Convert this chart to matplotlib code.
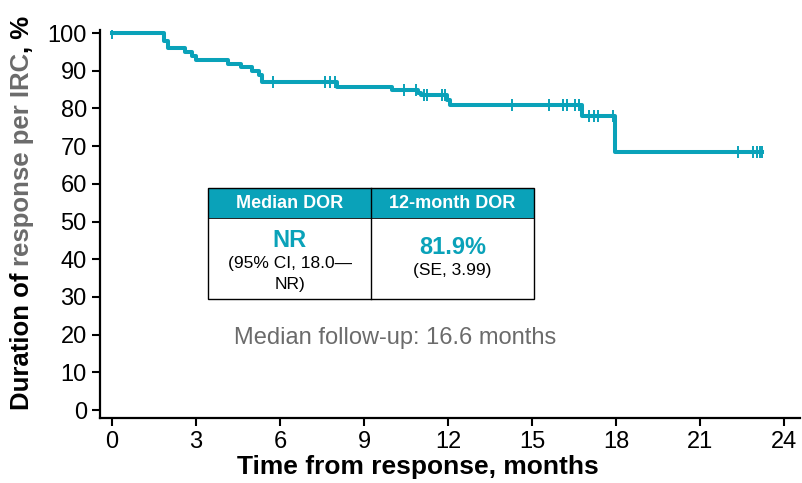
import numpy as np
import matplotlib
matplotlib.use("Agg")
import matplotlib.pyplot as plt
from matplotlib.patches import Rectangle

plt.rcParams['font.family'] = ['Liberation Sans', 'DejaVu Sans']

# Kaplan-Meier step curve (time in months, % still in response)
event_times = [0, 1.85, 2.0, 2.6, 2.85, 3.0, 4.15, 4.6, 5.0, 5.25, 5.35, 8.02,
               10.0, 10.92, 11.05, 11.95, 12.07, 16.78, 17.97]
surv_pct = [100, 97.9, 95.9, 94.9, 93.8, 92.8, 91.9, 90.9, 89.9, 88.8, 86.9, 85.6,
            84.9, 84.2, 83.5, 82.2, 80.9, 78.1, 68.5]
censor_times = [0, 5.75, 7.6, 7.78, 7.95, 10.43, 10.86, 11.14, 11.26, 11.77, 11.9,
                14.3, 15.6, 16.12, 16.24, 16.55, 16.66, 17.03, 17.2, 17.37, 17.9,
                22.37, 22.9, 23.02, 23.14, 23.22]

teal = '#0aa2b9'
gray = '#6b6b6b'

fig = plt.figure(figsize=(8.02, 4.83), dpi=100)
ax = fig.add_axes([100 / 802, 65 / 483, 700 / 802, 388 / 483])

t = list(event_times) + [max(censor_times)]
s = list(surv_pct) + [surv_pct[-1]]
ax.step(t, s, where='post', color=teal, lw=2.9, zorder=3)

idx = np.searchsorted(event_times, censor_times, side='right') - 1
cens_y = np.array(surv_pct)[idx]
ax.plot(censor_times, cens_y, ls='none', marker='|', ms=9, mew=1.4, color=teal, zorder=4)

ax.set_xlim(-0.43, 24.57)
ax.set_ylim(-2.1, 100.8)
ax.set_xticks(range(0, 25, 3))
ax.set_yticks(range(0, 101, 10))
ax.tick_params(labelsize=17, width=1.5, length=6, direction='out')
for side in ['top', 'right']:
    ax.spines[side].set_visible(False)
for side in ['left', 'bottom']:
    ax.spines[side].set_linewidth(1.6)

ax.set_xlabel("Time from response, months", fontsize=19, fontweight='bold', labelpad=1)
ax.xaxis.label.set_x(318 / 700)

# table box
x0, x1, xm = 3.43, 15.07, 9.25
y_top, y_hdr, y_bot = 58.9, 50.9, 29.4
ax.add_patch(Rectangle((x0, y_hdr), x1 - x0, y_top - y_hdr, facecolor=teal,
                       edgecolor='none', zorder=5))
ax.add_patch(Rectangle((x0, y_bot), x1 - x0, y_top - y_bot, facecolor='none',
                       edgecolor='black', lw=1.0, zorder=6))
ax.plot([xm, xm], [y_bot, y_top], color='black', lw=1.0, zorder=6)
ax.plot([x0, x1], [y_hdr, y_hdr], color='black', lw=0.6, zorder=6)
cl = (x0 + xm) / 2
cr = (xm + x1) / 2
ax.text(cl, 54.9, "Median DOR", color='white', fontsize=13, fontweight='bold',
        ha='center', va='center', zorder=7)
ax.text(cr, 54.9, "12-month DOR", color='white', fontsize=13, fontweight='bold',
        ha='center', va='center', zorder=7)
ax.text(cl, 45.0, "NR", color=teal, fontsize=17, fontweight='bold',
        ha='center', va='center', zorder=7)
ax.text(cl, 38.9, "(95% CI, 18.0\u2014", color='black', fontsize=12.5,
        ha='center', va='center', zorder=7)
ax.text(cl, 33.2, "NR)", color='black', fontsize=12.5,
        ha='center', va='center', zorder=7)
ax.text(cr, 43.2, "81.9%", color=teal, fontsize=17, fontweight='bold',
        ha='center', va='center', zorder=7)
ax.text(cr, 36.9, "(SE, 3.99)", color='black', fontsize=12.5,
        ha='center', va='center', zorder=7)

ax.text(10.1, 19.1, "Median follow-up: 16.6 months", color=gray, fontsize=17,
        ha='center', va='center')

# y label in pieces, different colours
pieces = [("Duration of ", 'black'), ("response per IRC", gray), (", %", 'black')]
fig.canvas.draw()
renderer = fig.canvas.get_renderer()
texts = []
heights = []
for txt, c in pieces:
    tt = fig.text(0, 0, txt, rotation=90, fontsize=18.5, fontweight='bold', color=c,
                  ha='center', va='bottom')
    bb = tt.get_window_extent(renderer)
    texts.append(tt)
    heights.append(bb.height)
total = sum(heights)
xc = 22 / 802
ystart = (483 - 213) - total / 2
for tt, h in zip(texts, heights):
    tt.set_position((xc, ystart / 483))
    ystart += h

fig.savefig("out.png", dpi=100)
